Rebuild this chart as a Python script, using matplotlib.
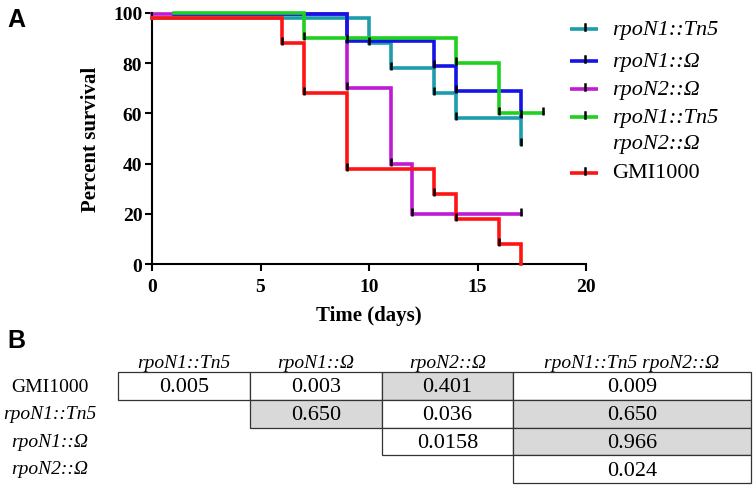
import matplotlib
matplotlib.use("Agg")
import matplotlib.pyplot as plt
from matplotlib.path import Path
from matplotlib.patches import Rectangle

# survival curves (days, percent survival)
tn5_days = [0, 10, 11, 13, 14, 17]
tn5_surv = [98, 88, 78, 68, 58, 48]
n1_days = [1, 9, 13, 14, 17]
n1_surv = [99.5, 89, 79, 69, 59]
n2_days = [0, 9, 11, 12, 17]
n2_surv = [99.5, 70, 40, 20, 20]
dbl_days = [1, 7, 14, 16, 18]
dbl_surv = [100, 90, 80, 60, 60]
wt_days = [0, 6, 7, 9, 13, 14, 16, 17]
wt_surv = [98, 88, 68, 38, 28, 18, 8, 0]

legend_labels = ["rpoN1::Tn5", "rpoN1::Ω", "rpoN2::Ω", "rpoN1::Tn5\nrpoN2::Ω", "GMI1000"]
colors = ["#1c9dab", "#1414e6", "#c01ad4", "#1fd11f", "#ff1414"]
draw_order = [3, 4, 2, 5, 6]

# log-rank p values, panel B
row_labels = ["GMI1000", "rpoN1::Tn5", "rpoN1::Ω", "rpoN2::Ω"]
col_labels = ["rpoN1::Tn5", "rpoN1::Ω", "rpoN2::Ω", "rpoN1::Tn5 rpoN2::Ω"]
p_values = [
    ["0.005", "0.003", "0.401", "0.009"],
    [None, "0.650", "0.036", "0.650"],
    [None, None, "0.0158", "0.966"],
    [None, None, None, "0.024"],
]

W, H = 756, 489
fig = plt.figure(figsize=(W / 100, H / 100), dpi=100)

# overlay in pixel coords for legend, panel letters and the table
ov = fig.add_axes([0, 0, 1, 1])
ov.set_xlim(0, W)
ov.set_ylim(H, 0)
ov.axis("off")

ax = fig.add_axes([152 / W, (H - 265) / H, 434 / W, 251 / H])
ax.patch.set_alpha(0)

serif = "Liberation Serif"
tick_marker = Path([(0, -0.25), (0, 1)], [Path.MOVETO, Path.LINETO])

curves = [(tn5_days, tn5_surv), (n1_days, n1_surv), (n2_days, n2_surv),
          (dbl_days, dbl_surv), (wt_days, wt_surv)]
for (days, surv), c, z in zip(curves, colors, draw_order):
    ax.plot(days, surv, drawstyle="steps-post", color=c, lw=2.6,
            solid_joinstyle="miter", clip_on=False, zorder=z)
    mx = [d for d, s in zip(days[1:], surv[1:]) if s > 0]
    my = [s for s in surv[1:] if s > 0]
    ax.plot(mx, my, ls="none", marker=tick_marker, ms=9, mew=1.8,
            color="black", clip_on=False, zorder=8)

ax.set_xlim(0, 20)
ax.set_ylim(0, 100)
ax.set_xticks([0, 5, 10, 15, 20])
ax.set_yticks([0, 20, 40, 60, 80, 100])
for s in ["top", "right"]:
    ax.spines[s].set_visible(False)
for s in ["left", "bottom"]:
    ax.spines[s].set_linewidth(1.5)
ax.tick_params(length=5, width=1.5, pad=2)
ax.tick_params(axis="x", pad=5)
for lab in ax.get_xticklabels() + ax.get_yticklabels():
    lab.set_fontfamily(serif)
    lab.set_fontweight("bold")
    lab.set_fontsize(14)
ax.set_xlabel("Time (days)", fontfamily=serif, fontweight="bold", fontsize=15, labelpad=7)
ax.set_ylabel("Percent survival", fontfamily=serif, fontweight="bold", fontsize=15, labelpad=9)

# legend
leg_y = [30, 62, 90, 118, 174]
for y, c, lab in zip(leg_y, colors, legend_labels):
    ov.plot([570, 598], [y, y], color=c, lw=2.6, solid_capstyle="butt")
    ov.plot([585, 585], [y - 5, y + 1], color="black", lw=1.8)
    lines = lab.split("\n")
    for k, t in enumerate(lines):
        ov.text(612, y + k * 26, t, fontfamily=serif, style="italic" if "::" in t else "normal",
                fontsize=16, va="center", ha="left")

ov.text(7, 20, "A", fontfamily="Liberation Sans", fontweight="bold", fontsize=18, va="center")
ov.text(7, 341, "B", fontfamily="Liberation Sans", fontweight="bold", fontsize=18, va="center")

# table
col_edges = [118, 250, 382, 513, 751]
row_edges = [373, 401, 428.5, 456, 484]
for j, lab in enumerate(col_labels):
    xc = (col_edges[j] + col_edges[j + 1]) / 2
    ov.text(xc, 364, lab, fontfamily=serif, style="italic", fontsize=14, ha="center", va="center")
for i, lab in enumerate(row_labels):
    yc = (row_edges[i] + row_edges[i + 1]) / 2
    ov.text(50, yc, lab, fontfamily=serif, style="normal" if i == 0 else "italic",
            fontsize=14, ha="center", va="center")
    for j, p in enumerate(p_values[i]):
        if p is None:
            continue
        shade = "#d9d9d9" if float(p) > 0.05 else "white"
        x0, x1 = col_edges[j], col_edges[j + 1]
        y0, y1 = row_edges[i], row_edges[i + 1]
        ov.add_patch(Rectangle((x0, y0), x1 - x0, y1 - y0, facecolor=shade,
                               edgecolor="#333333", lw=0.9))
        ov.text((x0 + x1) / 2, (y0 + y1) / 2 + 1, p, fontfamily=serif, fontsize=16,
                ha="center", va="center")

fig.savefig("out.png", dpi=100)
